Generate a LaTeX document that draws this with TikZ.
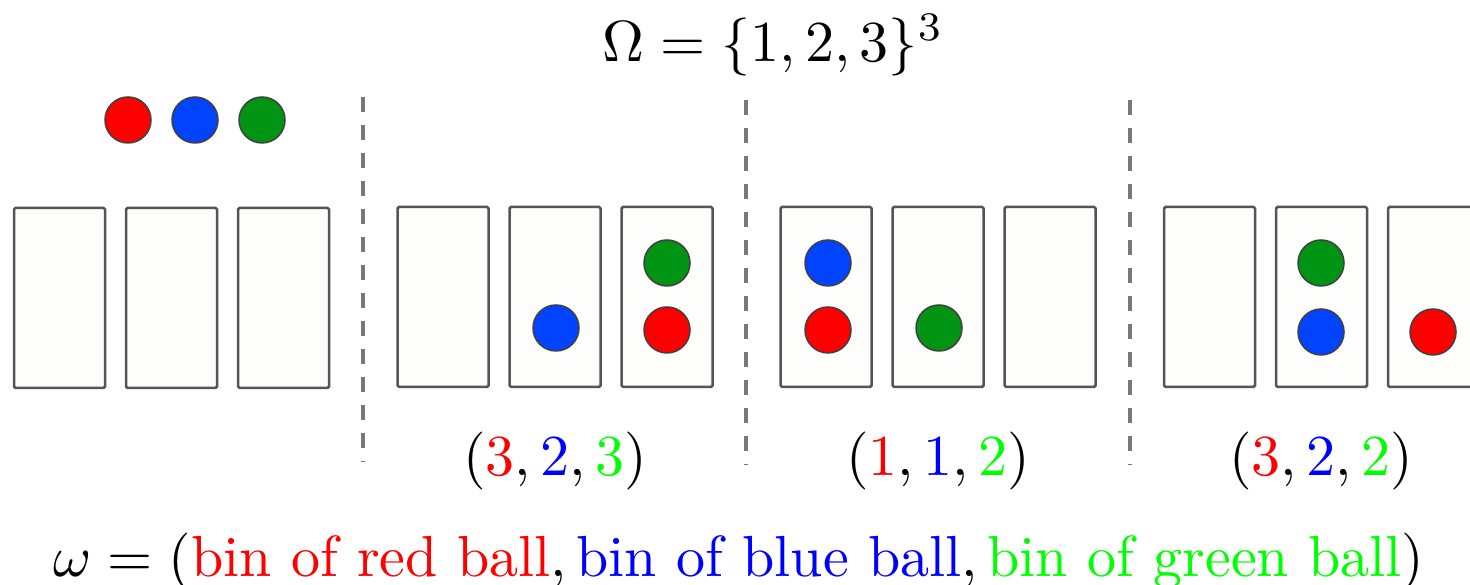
\documentclass[tikz,border=0pt]{standalone}
\usepackage{amsmath}
\newlength\pxu
\setlength\pxu{0.1724pt}
\definecolor{ballred}{RGB}{255,0,0}
\definecolor{ballblue}{RGB}{0,68,255}
\definecolor{ballgreen}{RGB}{0,148,20}
\definecolor{binedge}{RGB}{85,85,85}
\definecolor{binfill}{RGB}{253,253,251}
\definecolor{sepgray}{RGB}{120,120,120}
\begin{document}
\begin{tikzpicture}[x=1\pxu,y=-1\pxu,
  bin/.style={draw=binedge,fill=binfill,line width=2.5\pxu,rounded corners=1.5\pxu,minimum width=91\pxu,minimum height=180\pxu,inner sep=0pt,outer sep=0pt},
  ball/.style={circle,draw=black!75,line width=1.5\pxu,minimum size=46\pxu,inner sep=0pt},
  sepline/.style={draw=sepgray,line width=4\pxu,dash pattern=on 15\pxu off 13\pxu},
  lab/.style={anchor=base,inner sep=0pt}]
\useasboundingbox (0,0) rectangle (1470,585);
\clip (0,0) rectangle (1470,585);
% title
\node[lab] (title) at (773,62) {$\Omega=\{1,2,3\}^3$};
% group 1
\node[ball,fill=ballred] (r0) at (128,120) {};
\node[ball,fill=ballblue] (b0) at (195,120) {};
\node[ball,fill=ballgreen] (g0) at (262,120) {};
\node[bin] (a1) at (59.5,298) {};
\node[bin] (a2) at (171.5,298) {};
\node[bin] (a3) at (283.5,298) {};
% separators
\coordinate (s1t) at (363,97);  \coordinate (s1b) at (363,462);
\coordinate (s2t) at (746,100); \coordinate (s2b) at (746,465);
\coordinate (s3t) at (1130,100); \coordinate (s3b) at (1130,465);
\draw[sepline] (s1t) -- (s1b);
\draw[sepline] (s2t) -- (s2b);
\draw[sepline] (s3t) -- (s3b);
% group 2
\node[bin] (b1) at (443,297) {};
\node[bin] (b2) at (555,297) {};
\node[bin] (b3) at (667,297) {};
\node[ball,fill=ballblue] (b2b) at (556,328) {};
\node[ball,fill=ballgreen] (b3g) at (667,263) {};
\node[ball,fill=ballred] (b3r) at (667,330) {};
\node[lab] (l2) at (555,476) {$(\textcolor{red}{3},\textcolor{blue}{2},\textcolor{green}{3})$};
% group 3
\node[bin] (c1) at (826,297) {};
\node[bin] (c2) at (938,297) {};
\node[bin] (c3) at (1050,297) {};
\node[ball,fill=ballblue] (c1b) at (828,263) {};
\node[ball,fill=ballred] (c1r) at (828,330) {};
\node[ball,fill=ballgreen] (c2g) at (939,328) {};
\node[lab] (l3) at (938,476) {$(\textcolor{red}{1},\textcolor{blue}{1},\textcolor{green}{2})$};
% group 4
\node[bin] (d1) at (1209.5,297) {};
\node[bin] (d2) at (1321.5,297) {};
\node[bin] (d3) at (1433.5,297) {};
\node[ball,fill=ballgreen] (d2g) at (1321,263) {};
\node[ball,fill=ballblue] (d2b) at (1321,332) {};
\node[ball,fill=ballred] (d3r) at (1433,332) {};
\node[lab] (l4) at (1321,476) {$(\textcolor{red}{3},\textcolor{blue}{2},\textcolor{green}{2})$};
% bottom formula
\node[lab,anchor=base west] (omega) at (52,577) {$\omega=(\textcolor{red}{\text{bin of red ball}},\textcolor{blue}{\text{bin of blue ball}},\textcolor{green}{\text{bin of green ball}})$};
\end{tikzpicture}
\end{document}
